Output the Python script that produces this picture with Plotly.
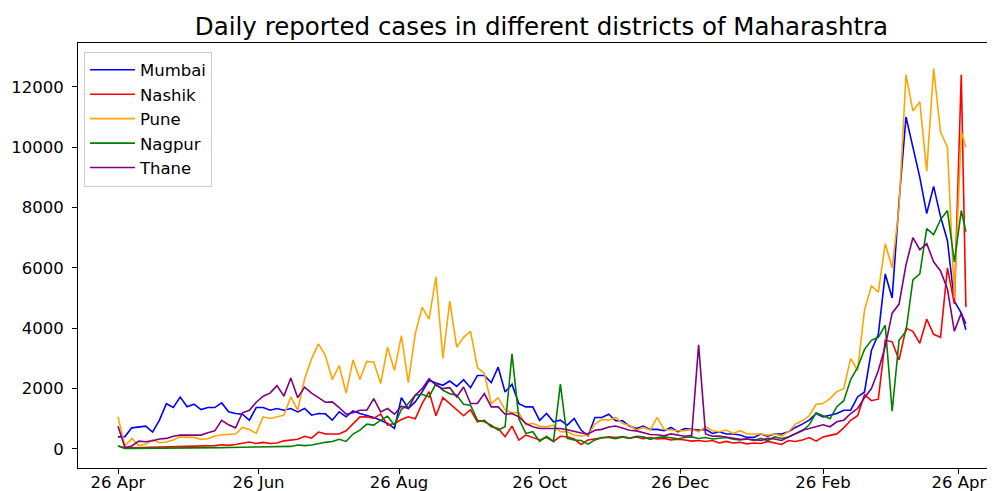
import pandas as pd
import plotly.graph_objects as go

start = pd.Timestamp("2020-04-26")
dates = [start + pd.Timedelta(days=3 * i) for i in range(123)] + [pd.Timestamp("2021-04-29")]

mumbai = [400, 410, 700, 725, 758, 560, 955, 1500, 1373, 1720,
          1400, 1483, 1307, 1373, 1373, 1527, 1230, 1175, 1153, 955,
          1373, 1373, 1285, 1340, 1285, 1340, 1230, 1340, 1120, 1175,
          1165, 955, 1230, 1065, 1263, 1175, 1120, 1043, 955, 846,
          680, 1700, 1340, 1560, 1890, 2274, 2186, 2110, 2250, 2075,
          2296, 2030, 2436, 2436, 2200, 2710, 1890, 2140, 1500, 1395,
          1395, 950, 1175, 900, 955, 790, 1010, 626, 430, 1043,
          1043, 1153, 933, 933, 758, 680, 758, 650, 650, 605,
          714, 571, 680, 650, 626, 650, 516, 571, 494, 494,
          461, 384, 384, 494, 428, 494, 494, 571, 714, 824,
          955, 1175, 1065, 1120, 1175, 1285, 1285, 1724, 1890, 3262,
          3800, 5800, 5000, 8200, 11000, 10000, 9000, 7800, 8700, 7700,
          6900, 4900, 4500, 3950]

nashik = [100, 40, 40, 45, 50, 55, 60, 65, 75, 80,
          90, 100, 100, 100, 110, 140, 120, 150, 190, 230,
          180, 220, 180, 200, 270, 300, 320, 420, 360, 560,
          500, 494, 494, 604, 845, 1065, 1065, 1010, 1153, 790,
          845, 977, 1065, 1000, 1500, 1900, 1100, 1700, 1500, 1300,
          1100, 1300, 900, 950, 736, 680, 406, 758, 296, 461,
          384, 300, 380, 250, 420, 400, 330, 150, 300, 330,
          360, 400, 380, 410, 360, 400, 340, 380, 330, 350,
          300, 320, 300, 260, 280, 250, 280, 200, 250, 200,
          220, 170, 200, 180, 250, 200, 150, 280, 250, 300,
          380, 260, 400, 450, 500, 700, 950, 1100, 1800, 1600,
          1650, 3600, 3550, 2950, 4000, 3900, 3500, 4300, 3800, 3700,
          6000, 4800, 12400, 4700]

pune = [1065, 98, 350, 110, 154, 300, 209, 230, 296, 406,
        384, 384, 318, 340, 428, 472, 483, 494, 714, 648,
        516, 1065, 1010, 1065, 1120, 1724, 1285, 2328, 2987, 3480,
        3100, 2300, 2765, 1850, 2955, 2300, 2900, 2877, 2170, 3372,
        2603, 3756, 2200, 3811, 4690, 4300, 5700, 3000, 4900, 3372,
        3700, 3900, 2700, 2500, 1500, 1700, 1300, 1200, 1200, 800,
        850, 750, 736, 790, 571, 571, 461, 428, 461, 823,
        977, 955, 1043, 845, 790, 626, 714, 626, 1050, 650,
        626, 605, 605, 650, 571, 736, 605, 571, 626, 516,
        605, 494, 494, 494, 461, 494, 428, 571, 824, 933,
        1100, 1483, 1505, 1670, 1900, 2000, 3000, 2600, 4600, 5400,
        5200, 6800, 6000, 8000, 12400, 11200, 11500, 9200, 12600, 10500,
        10000, 5000, 10500, 10000]

nagpur = [100, 20, 20, 20, 25, 25, 30, 30, 30, 35,
          35, 35, 40, 40, 45, 45, 50, 55, 60, 70,
          80, 70, 75, 80, 80, 85, 130, 110, 130, 180,
          220, 250, 320, 250, 494, 626, 824, 790, 955, 1087,
          790, 1307, 1505, 1780, 1812, 1725, 2164, 1944, 1834, 1780,
          1483, 1450, 955, 900, 790, 626, 736, 3150, 1000, 516,
          571, 250, 420, 250, 2150, 350, 300, 280, 160, 300,
          380, 380, 340, 400, 350, 420, 400, 320, 380, 400,
          380, 340, 380, 400, 350, 380, 330, 350, 380, 320,
          300, 330, 280, 350, 280, 400, 350, 400, 500, 600,
          800, 1200, 1100, 1000, 1400, 1600, 2300, 2700, 3300, 3600,
          3700, 4100, 1250, 3600, 3900, 5600, 5800, 7300, 7100, 7600,
          7900, 6200, 7900, 7200]

thane = [750, 50, 100, 260, 240, 270, 330, 350, 420, 460,
         460, 460, 460, 540, 600, 950, 800, 700, 1200, 1285,
         1550, 1750, 1850, 2100, 1750, 2350, 1700, 2050, 1850, 1700,
         1550, 1560, 1373, 1153, 1197, 1285, 1285, 1670, 1230, 1340,
         1153, 1417, 1340, 1780, 2000, 2330, 2110, 2000, 2030, 1725,
         2054, 1505, 1505, 1834, 1395, 1395, 1153, 1175, 1065, 846,
         736, 680, 680, 700, 680, 640, 580, 530, 500, 620,
         650, 730, 760, 700, 620, 600, 530, 480, 470, 440,
         500, 450, 420, 450, 3450, 500, 420, 430, 400, 360,
         320, 330, 300, 280, 350, 330, 280, 400, 500, 620,
         680, 736, 800, 736, 900, 955, 1175, 1340, 1700, 2000,
         2600, 3400, 4500, 4800, 6100, 7000, 6600, 6800, 6200, 5900,
         5300, 3900, 4500, 4150]

series_names = ["Mumbai", "Nashik", "Pune", "Nagpur", "Thane"]
series_values = [mumbai, nashik, pune, nagpur, thane]
series_colors = ["#0000ff", "#ff0000", "#ffa500", "#008000", "#800080"]

xtick_dates = ["2020-04-26", "2020-06-26", "2020-08-26", "2020-10-26",
               "2020-12-26", "2021-02-26", "2021-04-26"]
xtick_labels = ["26 Apr", "26 Jun", "26 Aug", "26 Oct", "26 Dec", "26 Feb", "26 Apr"]
ytick_values = [0, 2000, 4000, 6000, 8000, 10000, 12000]

fig = go.Figure()
for name, vals, col in zip(series_names, series_values, series_colors):
    fig.add_trace(go.Scatter(x=dates, y=vals, mode="lines", name=name,
                             line=dict(color=col, width=1.6)))

font_family = "DejaVu Sans"
# The page body adds an 8px offset, so the figure is sized 987x483.
fig.update_layout(
    width=987, height=483,
    margin=dict(l=70, r=0, t=35, b=23, autoexpand=False),
    paper_bgcolor="white", plot_bgcolor="white",
    font=dict(family=font_family, size=16.5, color="black"),
    title=dict(text="Daily reported cases in different districts of Maharashtra",
               font=dict(family=font_family, size=24.5, color="black"),
               x=533.5 / 987, xref="container", xanchor="center",
               y=1 - 18 / 483, yref="container", yanchor="middle",
               automargin=False),
    legend=dict(x=0.0065, y=0.98, xanchor="left", yanchor="top",
                bgcolor="rgba(255,255,255,0.8)", bordercolor="#cccccc", borderwidth=1,
                itemwidth=45,
                font=dict(family=font_family, size=16.5, color="black")),
    showlegend=True,
)
fig.update_xaxes(
    range=["2020-04-08 15:20", "2021-05-11 15:20"],
    tickmode="array", tickvals=xtick_dates, ticktext=xtick_labels,
    showgrid=False, zeroline=False, automargin=False,
    showline=True, linecolor="black", linewidth=1, mirror=True,
    ticks="outside", ticklen=5, tickwidth=1, tickcolor="black",
    ticklabelstandoff=-6,
    tickfont=dict(family=font_family, size=16.5, color="black"),
)
fig.update_yaxes(
    range=[-630, 13450],
    tickmode="array", tickvals=ytick_values, tickformat="d",
    showgrid=False, zeroline=False, automargin=False,
    showline=True, linecolor="black", linewidth=1, mirror=False,
    ticks="outside", ticklen=5, tickwidth=1, tickcolor="black",
    ticklabelstandoff=5,
    tickfont=dict(family=font_family, size=16.5, color="black"),
)

fig.write_html("out.html")
